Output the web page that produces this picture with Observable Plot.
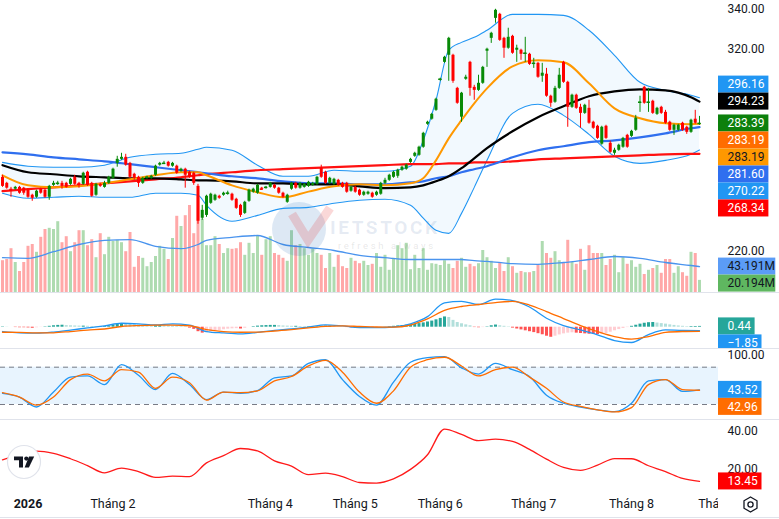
<!DOCTYPE html>
<html><head><meta charset="utf-8">
<script src="https://cdn.jsdelivr.net/npm/d3@7"></script>
<script src="https://cdn.jsdelivr.net/npm/@observablehq/plot@0.6"></script>
<style>
html,body{margin:0;padding:0;background:#fff;}
#chart{position:relative;width:779px;height:519px;overflow:hidden;background:#fff;font-family:Roboto,"Liberation Sans",sans-serif;}
.pane{position:absolute;left:0;}
.sep{position:absolute;left:0;width:779px;height:1px;background:#e0e3eb;}
</style></head><body>
<div id="chart">
  <div class="pane" id="vol" style="top:0"></div>
  <div id="wm" style="position:absolute;left:272px;top:202px;width:190px;height:60px;">
    <svg width="190" height="60">
      <circle cx="27" cy="27" r="27" fill="rgba(30,100,180,0.15)"/>
      <path d="M20 12 L36 38 L58 6" stroke="rgba(225,40,40,0.18)" stroke-width="9" fill="none"/>
      <text x="58" y="32" font-family="Roboto" font-size="19" font-weight="bold" letter-spacing="2.6" fill="rgba(60,100,160,0.13)">IETSTOCK</text>
      <text x="66" y="47" font-family="Roboto" font-size="9.5" letter-spacing="2.6" fill="rgba(120,120,120,0.18)">refresh always</text>
    </svg>
  </div>
  <div class="pane" id="main" style="top:0"></div>
  <div class="pane" id="macd" style="top:293px"></div>
  <div class="pane" id="stoch" style="top:349px"></div>
  <div class="pane" id="adx" style="top:420px"></div>
  <div class="pane" id="time" style="top:490px"></div>
  <div class="sep" style="top:292px"></div>
  <div class="sep" style="top:348px"></div>
  <div class="sep" style="top:419px"></div>
  <div class="sep" style="top:517px"></div>
  <svg style="position:absolute;left:6px;top:444px" width="36" height="36">
    <circle cx="18" cy="18" r="16.5" fill="#fff" stroke="#e0e3eb" stroke-width="1.2"/>
    <path d="M8 12.5h9v11h-4v-7.2h-5z" fill="#131722"/>
    <circle cx="20.3" cy="14.6" r="2.1" fill="#131722"/>
    <path d="M23 12.5h5.2l-5.3 11h-4.3z" fill="#131722"/>
  </svg>
  <svg style="position:absolute;left:741px;top:495px" width="19" height="19">
    <path d="M9.5 2 L16 5.8 L16 13.2 L9.5 17 L3 13.2 L3 5.8Z" fill="none" stroke="#131722" stroke-width="1.3" stroke-linejoin="round"/>
    <circle cx="9.5" cy="9.5" r="2.6" fill="none" stroke="#131722" stroke-width="1.3"/>
  </svg>
</div>
<script>
// ---------------- DATA ----------------
const open = [
256.7,253.7,250.8,250.8,251.7,251.3,250.3,247.8,246.8,250.8,
250.3,246.8,252.7,253.2,253.7,253.7,253.2,256.7,253.7,253.2,
259.2,253.7,247.8,253.2,251.7,253.7,256.2,263.6,265.6,266.6,
263.6,258.2,256.7,253.7,256.2,256.2,257.7,262.7,263.2,264.1,
262.2,262.2,259.7,260.7,259.2,258.7,252.2,236.4,237.8,243.8,
245.3,247.3,247.8,248.3,248.3,245.8,242.8,238.8,244.8,249.3,
248.8,251.3,251.3,251.7,252.7,251.3,248.8,244.3,250.8,253.7,
251.3,251.7,252.2,252.7,253.2,261.2,259.2,253.7,253.2,255.2,
253.7,253.7,249.8,251.7,250.3,247.8,248.3,248.8,247.8,248.3,
253.7,255.2,256.7,257.2,260.2,260.7,264.1,267.1,267.6,271.6,
283.0,285.5,289.9,304.8,313.7,317.2,317.2,300.8,286.5,305.3,
313.7,301.3,299.8,303.3,319.2,325.6,335.5,337.5,325.6,320.7,
326.6,319.7,319.7,317.7,317.7,312.7,313.2,306.8,307.8,296.9,
293.9,300.8,313.7,303.8,291.4,297.4,291.4,288.4,290.9,284.0,
282.0,273.1,282.0,273.6,268.6,270.1,271.6,277.5,277.0,280.0,
293.4,301.3,293.4,294.4,287.9,291.4,288.9,284.0,280.0,280.0,
283.5,281.5,279.0,285.5,283.0];
const high = [
257.7,254.2,251.7,252.2,252.2,251.7,250.8,248.3,250.3,251.3,
250.8,252.7,254.7,254.7,254.7,254.2,256.2,257.7,254.2,259.2,
259.7,254.2,253.7,253.7,254.7,257.2,261.2,267.1,268.6,268.1,
264.1,258.7,257.2,256.7,257.2,257.7,262.7,264.1,264.6,264.6,
264.1,262.7,261.2,261.2,259.7,259.2,253.2,242.8,247.8,248.8,
248.3,247.8,249.3,249.8,248.8,246.3,243.3,244.8,250.8,251.3,
253.2,251.7,252.2,254.2,253.2,251.7,249.3,248.3,254.2,254.2,
254.2,253.7,254.7,254.2,257.2,262.7,259.7,256.7,256.2,255.7,
254.2,254.2,252.2,252.2,250.8,249.8,249.8,249.3,249.8,254.2,
256.2,258.2,259.7,260.7,262.2,263.2,266.1,269.1,272.1,279.0,
284.5,288.4,295.9,305.8,316.7,326.1,317.7,301.3,298.8,307.3,
314.2,302.3,307.3,311.7,320.7,328.6,340.0,338.0,326.1,330.6,
327.1,322.2,320.2,326.1,318.2,315.7,313.7,313.2,310.7,297.4,
301.8,310.7,314.2,304.3,297.9,297.9,292.9,292.9,294.9,284.5,
282.5,282.0,282.5,274.6,271.1,273.1,276.5,278.0,280.0,287.4,
296.9,301.8,300.8,294.9,291.4,291.9,289.9,284.5,283.0,283.0,
284.0,282.0,285.5,289.9,286.9];
const low = [
251.7,250.8,246.8,250.3,248.3,247.8,246.3,244.8,246.3,248.3,
246.3,245.3,252.2,252.7,250.8,251.3,252.7,252.7,251.3,252.7,
252.2,246.8,247.3,251.7,251.3,253.2,255.7,261.7,265.1,262.2,
256.2,255.2,251.7,253.2,255.7,255.7,257.2,262.2,263.2,261.7,
261.7,258.2,259.2,251.3,256.2,252.7,233.4,235.4,236.8,243.3,
244.8,245.8,247.3,247.8,244.8,240.8,236.8,238.3,244.3,248.8,
248.3,250.3,250.8,251.3,250.8,248.3,246.3,243.8,250.3,250.8,
250.8,251.3,251.7,252.2,252.7,256.2,253.2,253.2,252.7,252.2,
251.3,248.8,249.3,248.8,247.3,247.3,247.8,246.3,247.3,247.8,
253.2,254.7,256.2,256.2,259.7,260.2,263.6,266.6,267.1,271.1,
282.5,285.0,289.4,304.3,313.2,304.3,303.3,292.9,284.0,304.8,
296.9,294.9,299.3,302.8,311.2,323.1,333.1,324.1,315.7,320.2,
317.7,313.7,314.7,313.7,312.2,310.7,305.8,303.8,296.4,291.4,
293.4,300.3,303.3,281.5,290.9,290.4,281.0,287.9,283.0,280.5,
275.5,272.6,275.5,268.6,267.6,269.6,271.1,271.1,276.5,279.5,
288.9,292.9,288.9,287.9,287.4,287.9,283.0,279.5,277.5,279.5,
279.5,278.0,278.5,283.0,282.5];
const close = [
252.2,251.3,250.3,251.7,248.8,248.8,246.8,246.3,249.8,248.8,
246.8,252.2,253.7,253.7,252.2,251.7,255.7,253.2,253.2,258.7,
252.7,247.3,253.2,252.2,253.7,256.7,260.7,265.6,266.6,262.7,
256.7,256.2,253.7,256.2,256.7,257.2,262.2,263.6,263.6,262.2,
263.6,258.7,260.7,257.7,256.7,253.7,234.9,240.3,247.3,248.3,
247.8,246.3,248.8,248.8,245.3,241.3,237.8,244.3,250.3,250.8,
252.7,250.8,251.7,253.7,251.3,248.8,246.8,247.8,253.7,251.3,
253.7,253.2,254.2,253.7,256.7,256.7,253.7,256.2,255.7,252.7,
251.7,249.3,251.7,249.3,247.8,249.3,249.3,246.8,249.3,253.7,
255.2,257.7,259.2,260.2,261.7,262.7,265.6,268.6,271.6,278.5,
284.0,287.9,295.4,305.3,316.2,325.6,304.3,293.4,298.4,306.3,
300.8,299.8,303.3,311.2,320.2,328.1,339.5,324.6,320.7,326.1,
318.2,320.7,317.7,318.2,312.7,313.2,306.3,308.3,296.9,293.4,
300.8,307.3,303.8,291.4,297.4,290.9,288.4,292.4,283.5,281.0,
276.0,281.5,276.0,269.1,270.1,272.6,276.0,271.6,279.5,286.0,
293.9,293.4,293.9,288.4,290.9,288.4,283.5,280.0,282.5,282.5,
280.0,279.0,285.0,283.5,283.39];
// volume, millions
const volume = [
53,55,73,50,35,50,77,80,67,92,
105,107,105,118,83,93,68,83,103,103,
78,88,58,98,63,92,85,87,83,68,
100,42,60,57,43,50,60,77,72,55,
90,127,110,128,145,98,160,122,78,78,
93,80,65,73,72,73,83,62,82,65,
95,62,88,93,65,62,57,52,103,78,
80,73,62,72,65,62,40,65,42,62,
43,40,57,52,48,52,45,47,65,42,
62,37,57,78,73,82,38,62,40,73,
37,48,47,45,53,47,40,52,57,42,
47,43,48,70,58,52,40,50,35,58,
43,32,35,33,33,35,45,85,65,57,
68,53,50,87,50,47,72,37,78,65,
65,65,45,55,62,33,58,47,53,42,
47,30,37,40,45,32,55,55,32,43,
33,27,67,65,20.194];
// MACD histogram per bar
const macdHist = [
0.2,0.1,0.0,-0.2,-0.3,-0.3,-0.4,-0.6,-0.3,-0.1,
0.2,0.5,0.8,1.0,1.1,0.9,0.8,0.7,0.6,0.6,
0.5,0.4,0.3,0.3,0.4,0.6,1.0,1.5,1.9,1.8,
1.6,1.4,1.2,1.0,0.9,0.8,0.8,0.9,0.8,0.7,
0.6,0.5,0.4,0.3,-0.5,-1.2,-2.5,-3.3,-3.0,-2.6,
-2.2,-1.8,-1.4,-1.1,-0.9,-0.8,-1.0,-0.6,0.0,0.3,
0.6,0.8,0.9,1.0,1.0,0.9,0.7,0.6,0.5,0.5,
0.4,0.3,0.3,0.2,0.3,0.5,0.6,0.6,0.4,0.2,
0.0,-0.2,-0.4,-0.5,-0.6,-0.5,-0.4,-0.4,-0.3,-0.1,
0.1,0.3,0.5,0.7,0.9,1.1,1.4,1.7,2.0,2.4,
2.9,3.4,4.1,4.9,5.7,5.4,3.8,2.6,1.9,1.3,
0.8,-0.2,-0.3,-0.2,0.2,0.8,1.2,0.8,0.5,0.2,
-0.5,-1.0,-1.5,-2.0,-2.5,-3.0,-3.6,-4.2,-5.0,-5.6,
-5.0,-4.3,-3.7,-3.3,-3.1,-3.3,-3.5,-3.7,-3.9,-4.0,
-4.1,-3.9,-3.5,-2.8,-2.0,-1.3,-0.7,-0.2,0.5,1.1,
1.7,2.2,2.5,2.6,2.3,2.0,1.7,1.3,1.0,0.7,
0.5,0.3,0.35,0.4,0.44];

// overlay lines sampled at these bars
const lineIdx = [0,6,12,18,24,30,36,42,46,48,54,60,66,72,78,84,90,96,99,102,105,108,111,114,120,126,132,138,144,150,156,162,164];
const ma20  = [257.7,252.7,251.7,252.2,253.7,255.7,257.7,259.2,259.2,257.7,252.7,249.3,246.8,249.6,252.2,253.2,252.7,253.7,256.2,265.1,276.0,285.0,293.4,300.8,311.7,314.7,313.7,303.3,290.9,286.0,283.5,283.0,283.19];
const ma50  = [262.7,259.2,258.2,257.2,256.7,256.2,256.2,255.7,255.2,255.2,254.7,253.7,253.7,253.2,253.2,252.2,251.3,251.7,252.7,254.7,257.2,261.2,266.1,271.1,279.5,286.5,291.9,296.9,299.3,300.3,299.8,296.4,294.23];
const ma100 = [269.1,268.1,266.6,265.6,264.6,263.2,261.7,260.2,259.2,258.7,257.2,256.2,254.7,253.7,253.7,253.2,253.2,254.2,254.7,256.2,257.2,259.2,260.7,262.2,266.6,270.1,272.1,274.1,275.0,276.5,278.5,281.0,281.60];
const ma200 = [249.8,250.8,251.7,252.7,253.7,254.7,255.7,256.7,257.7,258.2,259.2,260.2,260.7,261.2,261.7,262.2,262.7,263.2,263.2,263.2,263.6,263.6,264.1,264.1,264.6,265.6,266.1,266.6,267.1,267.6,268.1,268.3,268.34];
const bbUp  = [264.1,262.2,261.7,261.7,262.7,266.6,268.1,268.6,270.6,271.6,270.1,262.7,257.2,257.2,260.2,259.7,259.7,262.2,275.0,294.9,319.7,323.6,326.1,329.6,337.5,337.5,337.0,329.6,317.2,303.8,299.8,297.4,296.16];
const bbLo  = [248.8,246.3,246.8,247.3,246.8,246.8,248.8,248.8,247.8,242.8,234.9,237.8,241.3,241.8,243.8,245.3,245.8,242.8,236.4,230.4,228.9,238.8,251.7,265.1,288.4,292.9,287.4,278.0,267.1,263.6,265.1,268.1,270.22];
const volMA = [58,57,68,80,87,88,77,73,80,87,92,95,80,75,70,62,58,55,55,55,55,55,53,52,48,47,50,55,60,57,50,45,43.191];

// oscillators sampled every 4 bars
const oscIdx = d3.range(0, 165, 4);
const macdLine = [-2.4,-3.1,-3.3,-2.7,-1.6,-0.4,0.7,2.2,1.9,1.3,1.9,1.2,-2.4,-3.2,-3.7,-2.9,-1.8,-1.0,0.1,1.3,0.7,-0.2,-0.2,0.1,1.9,5.9,13.5,14.3,12.6,15.6,14.8,11.2,5.0,0.9,-1.5,-4.2,-7.4,-8.5,-4.1,-1.5,-1.8,-1.85];
const signalLine = [-2.8,-2.9,-3.2,-3.1,-2.4,-1.6,-1.0,0.4,0.9,1.1,1.1,0.8,-1.3,-2.4,-2.8,-2.7,-2.1,-1.3,-0.4,0.5,0.7,0.4,0.1,0.0,1.2,4.6,9.3,11.5,12.6,13.7,14.3,12.3,8.7,4.8,0.9,-2.4,-5.2,-6.6,-5.2,-2.9,-2.4,-2.29];
const stochK = [38,32,16,40,64,66,52,84,67,44,70,52,28,40,38,42.5,63,66,86,92,60,33,19,56,88,95.5,97,79,69,86,76,65,35,22,16,11.5,8.5,22,58,60,41,43.52];
const stochD = [39,32,19,32,60,69,58,76,72,46,64,55,27,40,39,42,58,65,82,91,72,40,22,42,80,92,96,82,66,76,80,64,46,24,17,11.5,8,15,52,60,44,42.96];
const adx = [24.8,27.4,29.4,28.2,25.4,21.8,18.0,20.5,18.6,15.6,16.2,16.0,23.2,27.0,30.8,29.5,24.3,21.5,17.0,17.8,16.0,12.9,12.6,14.8,19.8,27.5,41.0,38.2,34.9,35.7,34.5,30.3,25.2,20.8,19.3,22.0,25.5,25.4,21.7,18.6,15.0,13.45];

// axis ticks
const priceTicks = [220,240,260,280,300,320,340];
const stochTicks = [0,50,100];
const adxTicks = [20,40];
const monthIdx = [6,26,63,83,103,125,148,169];
const monthLabels = ["2026","Tháng 2","Tháng 4","Tháng 5","Tháng 6","Tháng 7","Tháng 8","Tháng 9"];

// ---------------- BUILD ----------------
const G = "#078a07", R = "#ff0000";
const X0 = -0.47, X1 = 168.47, PLOT_W = 718;
const pxPerIdx = PLOT_W / (X1 - X0);
const FONT = "Roboto, 'Liberation Sans', sans-serif";

const bars = close.map((c, i) => ({i, o: open[i], h: high[i], l: low[i], c, v: volume[i], hist: macdHist[i]}));
bars.forEach((d, k) => {
  d.up = d.c >= d.o;
  d.col = d.up ? G : R;
  d.vcol = d.up ? "rgba(76,175,80,0.45)" : "rgba(255,82,82,0.5)";
  const p = k ? bars[k - 1].hist : d.hist;
  d.hcol = d.hist >= 0 ? (d.hist >= p ? "#26a69a" : "#b2dfdb") : (d.hist <= p ? "#ff5252" : "#ffcdd2");
});
const lines = lineIdx.map((i, k) => ({i, ma20: ma20[k], ma50: ma50[k], ma100: ma100[k], ma200: ma200[k], up: bbUp[k], lo: bbLo[k], vma: volMA[k]}));
const osc = oscIdx.map((i, k) => ({i, macd: macdLine[k], sig: signalLine[k], k: stochK[k], d: stochD[k], adx: adx[k]}));
const last = a => a[a.length - 1];

function base(h, yDomain, marks, overflow = "visible") {
  return Plot.plot({
    width: 779, height: h, marginLeft: 0, marginRight: 61, marginTop: 0, marginBottom: 0,
    x: {domain: [X0, X1], axis: null},
    y: {domain: yDomain, axis: null, label: null},
    color: {type: "identity"},
    style: {background: "transparent", overflow, fontFamily: FONT},
    marks
  });
}
// value tags on the right scale: first tag stays at its value, others are pushed away from it
function layoutTags(tags, h, yDomain) {
  const s = d3.scaleLinear(yDomain, [h, 0]);
  const rows = tags.map(t => ({...t, py: s(t.value)}));
  const a = rows[0], H = 17;
  let prev = a.py;
  rows.slice(1).filter(t => t.value > a.value).sort((p, q) => q.py - p.py)
    .forEach(t => { t.py = Math.min(t.py, prev - H); prev = t.py; });
  prev = a.py;
  rows.slice(1).filter(t => t.value <= a.value).sort((p, q) => p.py - q.py)
    .forEach(t => { t.py = Math.max(t.py, prev + H); prev = t.py; });
  rows.forEach(r => {
    r.y = s.invert(r.py); r.y1 = s.invert(r.py - H / 2); r.y2 = s.invert(r.py + H / 2);
    r.x2 = X1 + (9 + 6.9 * r.label.length) / pxPerIdx;
  });
  return {rows, s};
}
function tagMarks(rows) {
  return [
    Plot.rect(rows, {x1: X1, x2: "x2", y1: "y1", y2: "y2", fill: "bg"}),
    Plot.text(rows, {x: X1, y: "y", text: "label", fill: "fg", textAnchor: "start", dx: 9, fontSize: 12})
  ];
}
// scale labels that a tag would cover are left out, as the chart hides them
function visibleTicks(ticks, L) {
  return ticks.filter(t => L.rows.every(r => Math.abs(L.s(t) - r.py) > 12));
}
const axisR = (ticks, fmt) => Plot.axisY(ticks, {anchor: "right", tickSize: 0, tickPadding: 9, tickFormat: fmt, fontSize: 12, color: "#131722", label: null});
const ln = (data, y, stroke, w) => Plot.line(data, {x: "i", y, stroke, strokeWidth: w, curve: "monotone-x"});
const f2 = d3.format(".2f");

// volume pane (behind price)
const volDom = [0, 292 / 0.6];
const volTags = layoutTags([
  {value: last(volMA), label: "43.191M", bg: "#5b9cf6", fg: "#131722"},
  {value: last(volume), label: "20.194M", bg: "#5fb760", fg: "#131722"}
], 292, volDom);
document.getElementById("vol").append(base(292, volDom, [
  Plot.ruleX(bars, {x: "i", y1: 0, y2: "v", stroke: "vcol", strokeWidth: 3}),
  ln(lines, "vma", "#4a94ee", 1.3),
  ...tagMarks(volTags.rows)
]));

// price pane
const priceDom = [199.57, 344.36];
const doji = bars.filter(d => Math.abs(d.o - d.c) < 0.6);
const priceTags = layoutTags([
  {value: last(close), label: "283.39", bg: "#0c800c", fg: "#ffffff"},
  {value: last(bbUp), label: "296.16", bg: "#2196f3", fg: "#ffffff"},
  {value: last(ma50), label: "294.23", bg: "#000000", fg: "#ffffff"},
  {value: 283.19, label: "283.19", bg: "#ff6d00", fg: "#ffffff"},
  {value: last(ma20), label: "283.19", bg: "#ff9800", fg: "#131722"},
  {value: last(ma100), label: "281.60", bg: "#2f6fef", fg: "#ffffff"},
  {value: last(bbLo), label: "270.22", bg: "#2196f3", fg: "#ffffff"},
  {value: last(ma200), label: "268.34", bg: "#ff0000", fg: "#ffffff"}
], 292, priceDom);
document.getElementById("main").append(base(292, priceDom, [
  Plot.areaY(lines, {x: "i", y1: "lo", y2: "up", fill: "#2196f3", fillOpacity: 0.06, curve: "monotone-x"}),
  ln(lines, "up", "#2196f3", 1.1),
  ln(lines, "lo", "#2196f3", 1.1),
  ln(lines, "ma200", "#ff1010", 2.2),
  ln(lines, "ma100", "#2f6fef", 2.2),
  ln(lines, "ma50", "#000000", 2.2),
  ln(lines, "ma20", "#ff9800", 2),
  Plot.ruleX(bars, {x: "i", y1: "l", y2: "h", stroke: "col", strokeWidth: 1}),
  Plot.ruleX(bars, {x: "i", y1: "o", y2: "c", stroke: "col", strokeWidth: 3}),
  Plot.ruleY(doji, {y: "c", x1: d => d.i - 0.36, x2: d => d.i + 0.36, stroke: "col", strokeWidth: 1.5}),
  axisR(visibleTicks(priceTicks, priceTags), f2),
  ...tagMarks(priceTags.rows)
]));

// MACD pane
const macdDom = [-11.83, 18.72];
const macdTags = layoutTags([
  {value: last(macdHist), label: "0.44", bg: "#26a69a", fg: "#ffffff"},
  {value: last(macdLine), label: "\u22121.85", bg: "#2196f3", fg: "#ffffff"}
], 55, macdDom);
document.getElementById("macd").append(base(55, macdDom, [
  Plot.ruleX(bars, {x: "i", y1: 0, y2: "hist", stroke: "hcol", strokeWidth: 3}),
  ln(osc, "macd", "#2196f3", 1.3),
  ln(osc, "sig", "#ff6d00", 1.3),
  ...tagMarks(macdTags.rows)
], "hidden"));

// Stochastic pane
const stochDom = [-4.12, 108.47];
const stochTags = layoutTags([
  {value: last(stochK), label: "43.52", bg: "#2196f3", fg: "#ffffff"},
  {value: last(stochD), label: "42.96", bg: "#ff6d00", fg: "#ffffff"}
], 70, stochDom);
document.getElementById("stoch").append(base(70, stochDom, [
  Plot.rect([0], {x1: X0, x2: X1, y1: 20, y2: 80, fill: "#2196f3", fillOpacity: 0.1}),
  Plot.ruleY([20, 80], {stroke: "#787b86", strokeWidth: 1, strokeDasharray: "5,4"}),
  ln(osc, "k", "#2196f3", 1.3),
  ln(osc, "d", "#ff6d00", 1.3),
  axisR(visibleTicks(stochTicks, stochTags), f2),
  ...tagMarks(stochTags.rows)
], "hidden"));

// ADX pane
const adxDom = [8.68, 45.53];
const adxTags = layoutTags([{value: last(adx), label: "13.45", bg: "#ff0000", fg: "#ffffff"}], 70, adxDom);
document.getElementById("adx").append(base(70, adxDom, [
  ln(osc, "adx", "#ff1a1a", 1.3),
  axisR(visibleTicks(adxTicks, adxTags), f2),
  ...tagMarks(adxTags.rows)
], "hidden"));

// time axis
const months = monthIdx.map((m, k) => ({m, label: monthLabels[k], first: k === 0}));
document.getElementById("time").append(base(27, [0, 1], [
  Plot.text(months.filter(d => d.first), {x: "m", frameAnchor: "middle", text: "label", fontSize: 12.5, fontWeight: "bold", fill: "#131722", clip: true}),
  Plot.text(months.filter(d => !d.first), {x: "m", frameAnchor: "middle", text: "label", fontSize: 12.5, fill: "#131722", clip: true})
]));
</script>
</body></html>
